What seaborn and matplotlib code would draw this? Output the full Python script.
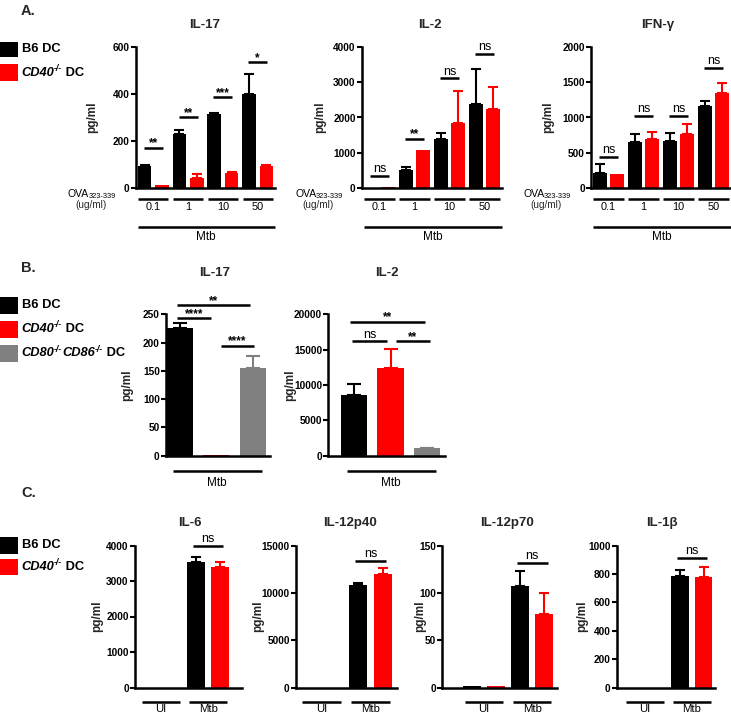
import numpy as np
import pandas as pd
import matplotlib
matplotlib.use("Agg")
import matplotlib.pyplot as plt
import seaborn as sns
from matplotlib.patches import Rectangle

W, H = 731, 714

sns.set_theme(style="ticks")
plt.rcParams['font.family'] = ['Liberation Sans', 'DejaVu Sans']

BLACK, RED, GRAY = "#000000", "#ff0000", "#808080"

# ---------------- data ----------------
DC = ["B6 DC", "CD40-/- DC"]
A_groups = ["0.1", "1", "10", "50"]

A_il17_b6 = [95, 229, 315, 398]
A_il17_b6_err = [3, 18, 2, 85]
A_il17_cd40 = [14, 45, 63, 95]
A_il17_cd40_err = [0, 14, 7, 2]
A_il17_sig = ["**", "**", "***", "*"]
A_il17_sig_y = [172, 300, 385, 535]

A_il2_b6 = [0, 521, 1403, 2370]
A_il2_b6_err = [0, 67, 152, 1014]
A_il2_cd40 = [40, 1080, 1848, 2246]
A_il2_cd40_err = [0, 0, 901, 626]
A_il2_sig = ["ns", "**", "ns", "ns"]
A_il2_sig_y = [360, 1403, 3109, 3791]

A_ifn_b6 = [213, 659, 673, 1166]
A_ifn_b6_err = [128, 104, 104, 66]
A_ifn_cd40 = [199, 692, 773, 1351]
A_ifn_cd40_err = [0, 109, 142, 142]
A_ifn_sig = ["ns", "ns", "ns", "ns"]
A_ifn_sig_y = [445, 1019, 1019, 1706]

B_groups = ["B6 DC", "CD40-/- DC", "CD80-/-CD86-/- DC"]
B_il17 = [225, 1.5, 155]
B_il17_err = [9, 0, 22]
B_il2 = [8550, 12350, 1050]
B_il2_err = [1650, 2700, 100]

C_groups = ["UI", "Mtb"]
C_il6_b6 = [0, 3549]
C_il6_b6_err = [0, 141]
C_il6_cd40 = [0, 3408]
C_il6_cd40_err = [0, 132]
C_p40_b6 = [0, 10800]
C_p40_b6_err = [0, 200]
C_p40_cd40 = [0, 11950]
C_p40_cd40_err = [0, 640]
C_p70_b6 = [1.5, 107]
C_p70_b6_err = [0, 16]
C_p70_cd40 = [1.5, 78]
C_p70_cd40_err = [0, 22]
C_il1b_b6 = [0, 785]
C_il1b_b6_err = [0, 42]
C_il1b_cd40 = [0, 776]
C_il1b_cd40_err = [0, 74]
C_sig_y = [3991, 13404, 132, 913]

# ---------------- helpers ----------------
fig = plt.figure(figsize=(W / 100, H / 100), dpi=100)
renderer = fig.canvas.get_renderer()


def add_ax(x0, x1, ytop, ybot):
    ax = fig.add_axes([x0 / W, 1 - ybot / H, (x1 - x0) / W, (ybot - ytop) / H])
    ax._px = (x0, x1, ytop, ybot)
    return ax


def ftext(x, y, s, **kw):
    kw.setdefault("ha", "center")
    kw.setdefault("va", "center")
    return fig.text(x / W, 1 - y / H, s, **kw)


def rich(x, y, pieces, weight="bold"):
    """pieces: (text, size, style, dy_px)"""
    cur = x
    for s, size, style, dy in pieces:
        t = fig.text(cur / W, 1 - (y + dy) / H, s, fontsize=size, fontweight=weight,
                     fontstyle=style, ha="left", va="center", color="black")
        bb = t.get_window_extent(renderer=renderer)
        cur += bb.width
    return cur


def legend_rows(rows):
    """rows: (top_px, height_px, color, pieces)"""
    for top, h, col, pieces in rows:
        fig.patches.append(Rectangle((0, 1 - (top + h) / H), 18 / W, h / H,
                                     transform=fig.transFigure, color=col, lw=0))
        rich(21.5, top + h / 2, pieces)


def lab_b6(fs=9.3):
    return [("B6 DC", fs, "normal", 0)]


def lab_ko(names, fs=9.3):
    out = []
    for n in names:
        out.append((n, fs, "italic", 0))
        out.append(("-/-", fs * 0.68, "italic", -4))
    out.append((" DC", fs, "normal", 0))
    return out


def style(ax, xlim, ylim, yticks, label_off):
    ax.set_xlim(*xlim)
    ax.set_ylim(*ylim)
    ax.set_xticks([])
    ax.set_xlabel("")
    ax.set_yticks(yticks)
    ax.set_yticklabels([str(t) for t in yticks], fontweight="bold", fontsize=7.3)
    for s in ["top", "right"]:
        ax.spines[s].set_visible(False)
    for s in ["left", "bottom"]:
        ax.spines[s].set_linewidth(1.8)
        ax.spines[s].set_color("black")
    ax.tick_params(axis="y", length=3.5, width=1.5, pad=1, colors="black")
    ax.patch.set_visible(False)
    x0, x1, yt, yb = ax._px
    ax.set_ylabel("pg/ml", fontsize=8.5, fontweight="bold", va="center")
    ax.yaxis.set_label_coords(label_off / (x1 - x0), 0.5)


def add_errs(ax, errs_list, colors, capsize=3.8):
    conts = list(ax.containers)
    for cont, errs, col in zip(conts, errs_list, colors):
        for bar in cont:
            cx = bar.get_x() + bar.get_width() / 2
            i = int(round(cx))
            e = errs[i]
            if e > 0:
                ax.errorbar(cx, bar.get_height(), yerr=[[0], [e]], fmt="none",
                            ecolor=col, elinewidth=1.5, capsize=capsize, capthick=1.5,
                            clip_on=False)


def hue_bars(ax, groups, b6, b6e, cd, cde, width, gap):
    df = pd.DataFrame({
        "group": groups * 2,
        "dc": [DC[0]] * len(groups) + [DC[1]] * len(groups),
        "value": b6 + cd,
    })
    sns.barplot(data=df, x="group", y="value", hue="dc", order=groups,
                hue_order=DC, palette=[BLACK, RED], width=width, gap=gap,
                errorbar=None, saturation=1, legend=False, ax=ax, linewidth=0)
    add_errs(ax, [b6e, cde], [BLACK, RED])


def sig(ax, x0, x1, y, s):
    ax.plot([x0, x1], [y, y], color="black", lw=1.8, clip_on=False,
            solid_capstyle="butt")
    xm = (x0 + x1) / 2
    if s == "ns":
        ax.annotate(s, (xm, y), xytext=(0, 0.5), textcoords="offset points",
                    ha="center", va="bottom", fontsize=9, color="black",
                    annotation_clip=False)
    else:
        ax.annotate(s, (xm, y), xytext=(0, -1.2), textcoords="offset points",
                    ha="center", va="bottom", fontsize=8.5, fontweight="bold",
                    color="black", annotation_clip=False)


def under_line(ax, x0, x1, ypx, lw=1.8):
    yb, h = ax._px[3], ax._px[3] - ax._px[2]
    yf = (yb - ypx) / h
    ax.plot([x0, x1], [yf, yf], color="black", lw=lw, clip_on=False,
            transform=ax.get_xaxis_transform(), solid_capstyle="butt")


def under_text(ax, x, ypx, s, fs):
    yb, h = ax._px[3], ax._px[3] - ax._px[2]
    yf = (yb - ypx) / h
    ax.text(x, yf, s, ha="center", va="center", fontsize=fs, color="black",
            transform=ax.get_xaxis_transform(), clip_on=False)


# ---------------- Panel A ----------------
A_specs = [
    ("IL-17", (136, 275), A_il17_b6, A_il17_b6_err, A_il17_cd40, A_il17_cd40_err,
     (0, 600), [0, 200, 400, 600], A_il17_sig, A_il17_sig_y, -44, 205, 68),
    ("IL-2", (362, 502), A_il2_b6, A_il2_b6_err, A_il2_cd40, A_il2_cd40_err,
     (0, 4000), [0, 1000, 2000, 3000, 4000], A_il2_sig, A_il2_sig_y, -42, 430, 295),
    ("IFN-γ", (591, 731), A_ifn_b6, A_ifn_b6_err, A_ifn_cd40, A_ifn_cd40_err,
     (0, 2000), [0, 500, 1000, 1500, 2000], A_ifn_sig, A_ifn_sig_y, -43, 658, 523),
]
for (title, (x0, x1), b6, b6e, cd, cde, ylim, yt, sl, sy, loff, tx, ovx) in A_specs:
    ax = add_ax(x0, x1, 46.7, 188.3)
    hue_bars(ax, A_groups, b6, b6e, cd, cde, 1.0, 0.22)
    style(ax, (-0.5, 3.5), ylim, yt, loff)
    for i, (s, y) in enumerate(zip(sl, sy)):
        sig(ax, i - 0.27, i + 0.27, y, s)
    for i, g in enumerate(A_groups):
        under_line(ax, i - 0.43, i + 0.43, 199)
        under_text(ax, i, 207, g, 7.8)
    under_line(ax, -0.45, 3.5, 226.7)
    under_text(ax, 1.52, 237, "Mtb", 8.5)
    ftext(tx, 25, title, fontsize=9.5, fontweight="bold")
    end = rich(ovx, 194, [("OVA", 7.5, "normal", 0), ("323-339", 5.3, "normal", 2.5)],
               weight="normal")
    ftext((ovx + end) / 2 - 1, 205, "(ug/ml)", fontsize=7.2)

ftext(21, 11, "A.", fontsize=10.5, fontweight="bold", ha="left")
legend_rows([(41.7, 15.5, BLACK, lab_b6()),
             (64.5, 16.5, RED, lab_ko(["CD40"]))])

# ---------------- Panel B ----------------
B_specs = [
    ("IL-17", (166, 270), (-0.37, 2.47), B_il17, B_il17_err, (0, 250),
     [0, 50, 100, 150, 200, 250], -39, 215,
     [(-0.08, 0.87, 243, "****"), (-0.08, 1.93, 266, "**"), (1.13, 2.04, 194.5, "****")]),
    ("IL-2", (328.3, 445), (-0.69, 2.48), B_il2, B_il2_err, (0, 20000),
     [0, 5000, 10000, 15000, 20000], -38, 387,
     [(-0.10, 1.93, 18950, "**"), (-0.05, 0.9, 16180, "ns"), (1.14, 2.08, 16180, "**")]),
]
for (title, (x0, x1), xlim, vals, errs, ylim, yt, loff, tx, sigs) in B_specs:
    ax = add_ax(x0, x1, 314.3, 455.7)
    df = pd.DataFrame({"geno": B_groups, "value": vals})
    sns.barplot(data=df, x="geno", y="value", hue="geno", order=B_groups,
                hue_order=B_groups, palette=[BLACK, RED, GRAY], width=0.71,
                errorbar=None, saturation=1, legend=False, ax=ax, linewidth=0)
    cols = [BLACK, RED, GRAY]
    for cont in list(ax.containers):
        for bar in cont:
            cx = bar.get_x() + bar.get_width() / 2
            i = int(round(cx))
            if errs[i] > 0:
                ax.errorbar(cx, bar.get_height(), yerr=[[0], [errs[i]]], fmt="none",
                            ecolor=cols[i], elinewidth=1.5, capsize=5, capthick=1.5,
                            clip_on=False)
    style(ax, xlim, ylim, yt, loff)
    for (a, b, y, s) in sigs:
        sig(ax, a, b, y, s)
    under_line(ax, -0.19, 2.24, 470.5)
    under_text(ax, 1.02, 483, "Mtb", 8.5)
    ftext(tx, 273, title, fontsize=9.5, fontweight="bold")

ftext(21, 268, "B.", fontsize=10.5, fontweight="bold", ha="left")
legend_rows([(297, 17, BLACK, lab_b6()),
             (320.5, 17, RED, lab_ko(["CD40"])),
             (345, 17, GRAY, lab_ko(["CD80", "CD86"]))])

# ---------------- Panel C ----------------
C_specs = [
    ("IL-6", (135, 242.3), (-0.54, 1.72), C_il6_b6, C_il6_b6_err, C_il6_cd40, C_il6_cd40_err,
     (0, 4000), [0, 1000, 2000, 3000, 4000], -38, 190),
    ("IL-12p40", (296, 396.7), (-0.53, 1.54), C_p40_b6, C_p40_b6_err, C_p40_cd40, C_p40_cd40_err,
     (0, 15000), [0, 5000, 10000, 15000], -38, 350),
    ("IL-12p70", (442.3, 556.7), (-0.87, 1.51), C_p70_b6, C_p70_b6_err, C_p70_cd40, C_p70_cd40_err,
     (0, 150), [0, 50, 100, 150], -22, 507),
    ("IL-1β", (616.7, 715), (-0.6, 1.49), C_il1b_b6, C_il1b_b6_err, C_il1b_cd40, C_il1b_cd40_err,
     (0, 1000), [0, 200, 400, 600, 800, 1000], -35, 662),
]
for k, (title, (x0, x1), xlim, b6, b6e, cd, cde, ylim, yt, loff, tx) in enumerate(C_specs):
    ax = add_ax(x0, x1, 545.5, 687.5)
    hue_bars(ax, C_groups, b6, b6e, cd, cde, 1.0, 0.26)
    style(ax, xlim, ylim, yt, loff)
    sig(ax, 1 - 0.32, 1 + 0.32, C_sig_y[k], "ns")
    for i, g in enumerate(C_groups):
        under_line(ax, i - 0.4, i + 0.4, 701.7)
        under_text(ax, i, 708.5, g, 8.2)
    ftext(tx, 523, title, fontsize=9.5, fontweight="bold")

ftext(21, 493, "C.", fontsize=10.5, fontweight="bold", ha="left")
legend_rows([(537, 16.5, BLACK, lab_b6()),
             (558.5, 16.5, RED, lab_ko(["CD40"]))])

fig.savefig("out.png", dpi=100)
